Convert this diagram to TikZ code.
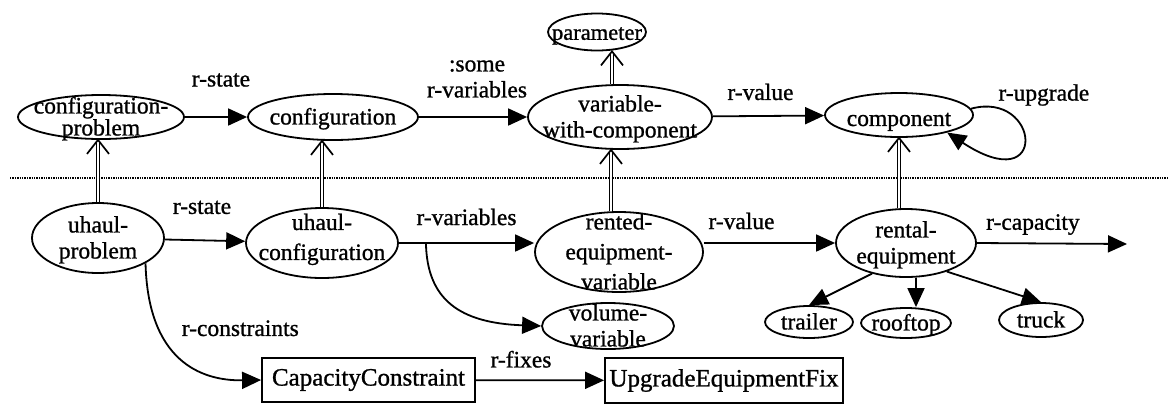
\documentclass[tikz,border=0pt]{standalone}
\usepackage{fontspec}
\setmainfont{Liberation Serif}[FakeBold=1]
\usetikzlibrary{arrows.meta,shapes.geometric,calc}
\newcommand\inell[2][-8.5pt]{\smash{\makebox[0pt]{\raisebox{#1}{\begin{tabular}{@{}c@{}}#2\end{tabular}}}}}
\begin{document}
\begin{tikzpicture}[x=1pt,y=-1pt,
  every node/.style={font=\fontsize{23.5}{26}\selectfont},
  el/.style={draw, ellipse, line width=1.8pt, inner sep=0pt},
  bx/.style={draw, rectangle, line width=1.8pt, inner sep=0pt, font=\fontsize{25}{26}\selectfont},
  arr/.style={line width=1.8pt, -{Triangle[length=19pt,width=17pt]}},
  dbl/.style={double, double distance=2pt, line width=1.3pt, shorten >=2pt},
  chevline/.style={line width=1.7pt},
  lbl/.style={inner sep=0pt, align=center}]
\useasboundingbox (0,0) rectangle (1169,405);

% separator
\coordinate (dl) at (10,178);
\coordinate (dr) at (1169,178);
\draw[densely dotted, line width=1.4pt] (dl) -- (dr);

% upper row
\node[el, minimum width=166pt, minimum height=44pt] (cp) at (101,117) {\inell{configuration-\\[-4pt]problem}};
\node[el, minimum width=170pt, minimum height=46pt] (conf) at (333,117) {\inell{configuration}};
\node[el, minimum width=184pt, minimum height=64pt] (vwc) at (620,117) {\inell{variable-\\with-component}};
\node[el, minimum width=98pt, minimum height=37pt, font=\fontsize{22.5}{25}\selectfont] (param) at (597,32) {\inell[-8pt]{parameter}};
\node[el, minimum width=148pt, minimum height=44pt] (comp) at (899,115) {\inell[-12pt]{component}};

% lower row
\node[el, minimum width=132pt, minimum height=70pt] (up) at (98,238) {\inell{uhaul-\\problem}};
\node[el, minimum width=152pt, minimum height=70pt] (uc) at (322,243) {\inell[-3pt]{uhaul-\\[4pt]configuration}};
\node[el, minimum width=168pt, minimum height=80pt] (rev) at (619,252) {\inell{rented-\\[4pt]equipment-\\[4pt]variable}};
\node[el, minimum width=140pt, minimum height=68pt] (re) at (906,243) {\inell{rental-\\equipment}};
\node[el, minimum width=132pt, minimum height=46pt] (vv) at (608,326) {\inell{volume-\\variable}};
\node[el, minimum width=88pt, minimum height=32pt] (trailer) at (809,322) {\inell{trailer}};
\node[el, minimum width=90pt, minimum height=30pt] (rooftop) at (906,323) {\inell{rooftop}};
\node[el, minimum width=84pt, minimum height=34pt] (truck) at (1041,320) {\inell{truck}};
\node[bx, minimum width=213pt, minimum height=44pt] (cc) at (368.5,380) {CapacityConstraint};
\node[bx, minimum width=238pt, minimum height=45pt] (uef) at (724,380.5) {UpgradeEquipmentFix};

% specialization links (double lines with open heads)
\coordinate (t1) at (up.north |- cp.south);
\coordinate (t2) at (uc.north |- conf.south);
\coordinate (s3) at ($(rev.north)+(-8,0)$);
\coordinate (t3) at (s3 |- vwc.south);
\coordinate (s4) at ($(vwc.north)+(-8,0)$);
\coordinate (t4) at (s4 |- param.south);
\coordinate (s5) at (re.north -| comp.south);
\coordinate (t5) at (comp.south);
\foreach \a/\b in {up.north/t1, uc.north/t2, s3/t3, s4/t4, s5/t5}{
  \draw[dbl] (\a) -- (\b);
  \draw[chevline] ($(\b)+(-11,14)$) -- (\b) -- ($(\b)+(11,14)$);
}

% relations, upper row
\draw[arr] (cp) -- (conf) node[lbl, midway, xshift=5pt, yshift=37pt] (l1) {r-state};
\draw[arr] (conf) -- (vwc) node[lbl, midway, xshift=4pt, yshift=38pt] (l2) {:some\\r-variables};
\draw[arr] (vwc) -- (comp) node[lbl, midway, xshift=-8pt, yshift=24pt] (l3) {r-value};
\draw[arr] (comp.5) .. controls (1040,90) and (1050,200) .. (comp.-20)
  node[lbl, pos=0.25, xshift=33pt, yshift=19pt] (l4) {r-upgrade};

% relations, lower row
\draw[arr] (up) -- (uc) node[lbl, midway, xshift=-3pt, yshift=33pt] (l5) {r-state};
\draw[arr] (uc.east) -- (uc.east -| rev.west)
  coordinate[pos=0.2] (br)
  node[lbl, midway, yshift=26pt] (l6) {r-variables};
\draw[arr] (br) .. controls (427,300) and (460,323) .. (vv.west);
\draw[arr] (re.west -| rev.east) -- (re.west) node[lbl, midway, xshift=-28pt, yshift=22pt] (l7) {r-value};
\coordinate (capend) at (1127,244);
\draw[arr] (re.east) -- (capend) node[lbl, midway, xshift=-19pt, yshift=19pt] (l8) {r-capacity};
\draw[arr] (re.222) -- (trailer.north);
\draw[arr] ([xshift=10pt]re.south) -- ([xshift=10pt]re.south |- rooftop.north);
\draw[arr] (re.-35) -- (truck.north);
\draw[arr] (up.-28) .. controls (148,360) and (200,381) .. (cc.west)
  node[lbl, pos=0.5, xshift=59pt, yshift=30pt] (l9) {r-constraints};
\draw[arr] (cc) -- (uef) node[lbl, midway, xshift=-19pt, yshift=21pt] (l10) {r-fixes};
\end{tikzpicture}
\end{document}
